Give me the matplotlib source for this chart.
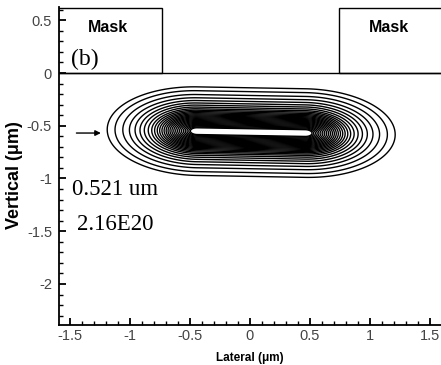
import numpy as np
import matplotlib.pyplot as plt
from matplotlib.patches import Rectangle

# contour positions: x where each line crosses the
# centre line on the left tip (um)
tip_x = [-1.19, -1.125, -1.06, -1.005, -0.958, -0.917, -0.881, -0.848,
         -0.819, -0.795, -0.773, -0.753, -0.734, -0.716, -0.699, -0.683,
         -0.667, -0.651, -0.635, -0.619, -0.603, -0.587, -0.571, -0.555,
         -0.54, -0.525, -0.51, -0.497]
core_center = 0.01      # lateral centre of the implant
core_half = 0.45        # half length of the flat part
depth_mid = -0.56       # centre depth at x = 0
depth_tilt = -0.02      # slope of centre line
aspect = 0.56           # vertical / lateral spread
mask_left = [-1.6, -0.73]
mask_right = [0.74, 1.7]
mask_top = 0.62
xticks = [-1.5, -1, -0.5, 0, 0.5, 1, 1.5]
yticks = [-2, -1.5, -1, -0.5, 0, 0.5]
note1 = "0.521 um"
note2 = "2.16E20"

sans = ['Liberation Sans Narrow', 'Liberation Sans', 'DejaVu Sans']
serif = ['Liberation Serif', 'DejaVu Serif']

fig = plt.figure(figsize=(4.41, 3.65), dpi=100)
ax = fig.add_axes([59/441, 40/365, 382/441, 318/365])

x = np.linspace(-1.6, 1.6, 900)
y = np.linspace(-1.3, 0.1, 700)
X, Y = np.meshgrid(x, y)
dx = np.maximum(np.abs(X - core_center) - core_half, 0)
dy = (Y - (depth_mid + depth_tilt * X)) / aspect
D = np.sqrt(dx**2 + dy**2)
levels = sorted((core_center - core_half) - t for t in tip_x)
ax.contour(X, Y, D, levels=levels, colors='k', linewidths=1.0)

# masks and surface
ax.plot([-1.6, 1.7], [0, 0], color='k', lw=1)
for m in (mask_left, mask_right):
    ax.add_patch(Rectangle((m[0], 0), m[1]-m[0], mask_top, fill=False,
                           ec='k', lw=1, clip_on=True))
ax.text(-1.18, 0.436, "Mask", ha='center', va='center', fontsize=11.5,
        fontweight='bold', family=sans)
ax.text(1.16, 0.436, "Mask", ha='center', va='center', fontsize=11.5,
        fontweight='bold', family=sans)
ax.text(-1.49, 0.13, "(b)", ha='left', va='center', fontsize=17, family=serif)

ax.text(-1.48, -1.109, note1, ha='left', va='center', fontsize=16.5, family=serif)
ax.text(-1.44, -1.44, note2, ha='left', va='center', fontsize=16.5, family=serif)
ax.annotate('', xy=(-1.22, -0.569), xytext=(-1.47, -0.569),
            arrowprops=dict(arrowstyle='-|>', lw=1, color='k', mutation_scale=8))

ax.set_xlim(-1.592, 1.592)
ax.set_ylim(-2.389, 0.626)
ax.set_xticks(xticks)
ax.set_xticklabels([f"{v:g}" for v in xticks])
ax.set_yticks(yticks)
ax.set_yticklabels([f"{v:g}" for v in yticks])
ax.set_xticks(np.arange(-1.5, 1.6, 0.1), minor=True)
ax.set_yticks(np.arange(-2.3, 0.61, 0.1), minor=True)
ax.tick_params(which='major', direction='in', length=5, width=1.3,
               labelsize=10.5, labelcolor='#444444', pad=5)
ax.tick_params(which='minor', direction='in', length=3, width=1)
ax.tick_params(axis='x', pad=3)
for lab in ax.get_xticklabels() + ax.get_yticklabels():
    lab.set_family(sans)
for s in ('top', 'right'):
    ax.spines[s].set_visible(False)
for s in ('left', 'bottom'):
    ax.spines[s].set_linewidth(1.3)

ax.set_xlabel("Lateral (\u03bcm)", fontsize=8.5, fontweight='bold', family=sans)
ax.xaxis.set_label_coords(0.5, -0.085)
ax.set_ylabel("Vertical (\u03bcm)", fontsize=13, fontweight='bold', family=sans)
ax.yaxis.set_label_coords(-0.095, 0.47)

fig.savefig("out.png", dpi=100)
